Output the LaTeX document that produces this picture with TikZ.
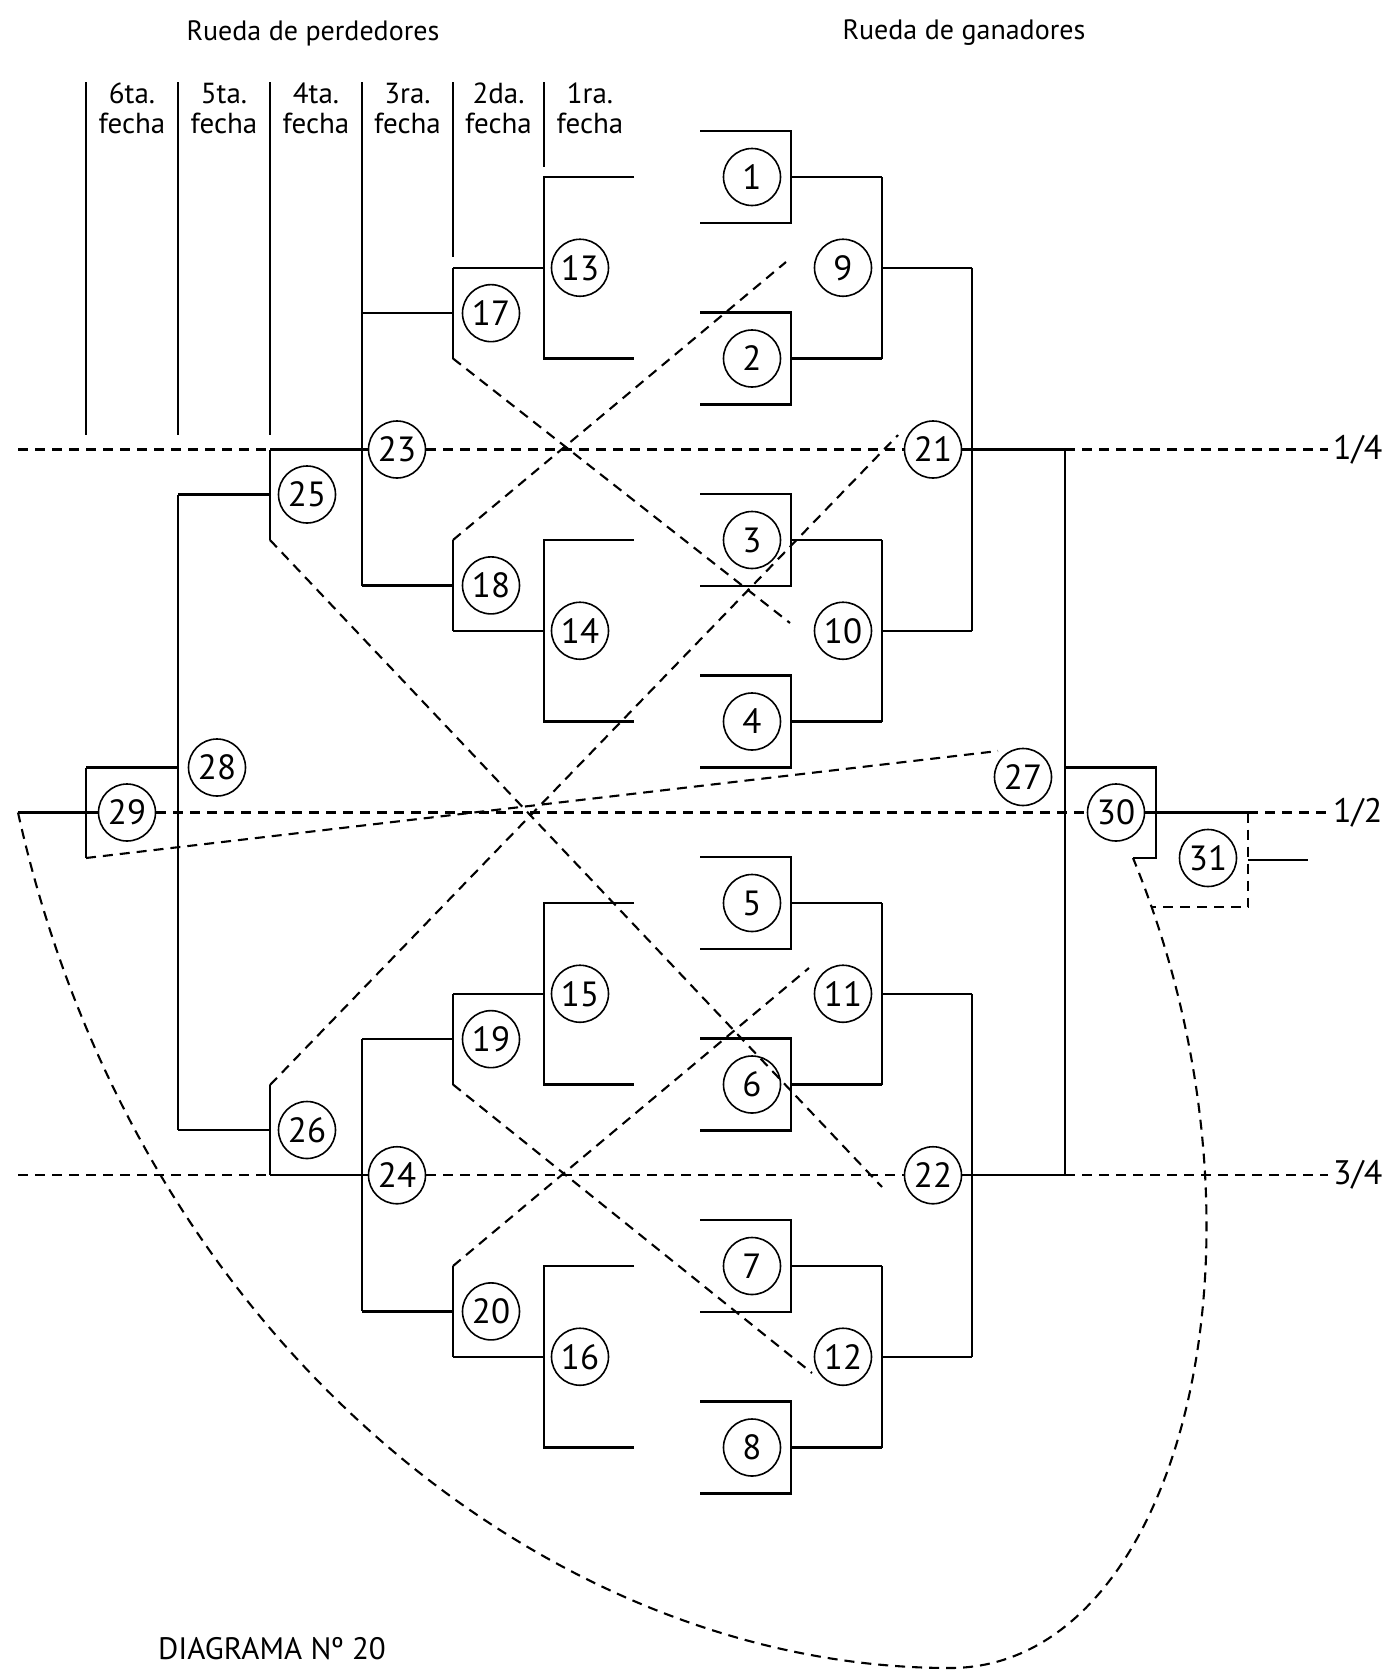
\documentclass[tikz,border=0pt]{standalone}
\usepackage{fontspec}
\setmainfont{PT Sans}
\begin{document}
\begin{tikzpicture}[x=1pt,y=-1pt,
  nd/.style={circle,draw,line width=1.6pt,minimum size=57pt,inner sep=0pt,font=\fontsize{35}{35}\selectfont},
  ln/.style={line width=2.2pt},
  dl/.style={line width=2.1pt,dash pattern=on 10pt off 7pt},
  hd/.style={font=\fontsize{29}{29}\selectfont,anchor=base,inner sep=0pt},
  ttl/.style={font=\fontsize{28}{28}\selectfont,inner sep=0pt},
  frac/.style={font=\fontsize{34}{34}\selectfont,anchor=west,inner sep=0pt},
]
\useasboundingbox (0,0) rectangle (1399,1673);

% titles
\node[ttl] (tper) at (313,33) {Rueda de perdedores};
\node[ttl] (tgan) at (964,33) {Rueda de ganadores};

% column heads
\foreach \x/\t [count=\k] in {132/6ta.,224/5ta.,316/4ta.,407.5/3ra.,498.5/2da.,590/1ra.}{
  \node[hd] (ha\k) at (\x,103) {\t};
  \node[hd] (hb\k) at (\x,133) {fecha};
}
\draw[ln] (86,82) -- (86,435);
\draw[ln] (178,82) -- (178,435);
\draw[ln] (270,82) -- (270,435);
\draw[ln] (362,82) -- (362,585.6);
\draw[ln] (453,82) -- (453,257);
\draw[ln] (544,82) -- (544,167);

% ---------- winners bracket ----------
\foreach \i in {1,...,8}{
  \pgfmathsetmacro\yy{177+181.5*(\i-1)}
  \node[nd] (n\i) at (752,\yy) {\i};
  \draw[ln] (700,\yy-46) -- (791,\yy-46) -- (791,\yy+46) -- (700,\yy+46);
  \draw[ln] (791,\yy) -- (882,\yy);
}
\foreach \j in {0,...,3}{
  \pgfmathsetmacro\ya{177+363*\j}
  \pgfmathsetmacro\ym{\ya+90.75}
  \pgfmathtruncatemacro\nn{9+\j}
  \node[nd] (n\nn) at (843,\ym) {\nn};
  \draw[ln] (882,\ya) -- (882,\ya+181.5);
  \draw[ln] (882,\ym) -- (972,\ym);
}
\node[nd] (n21) at (933,449.5) {21};
\node[nd] (n22) at (933,1175.25) {22};
\draw[ln] (972,267.75) -- (972,631.25);
\draw[ln] (972,993.75) -- (972,1356.75);
\draw[ln] (n21.east) -- (1065,449.5);
\draw[ln] (n22.east) -- (1065,1175.25);
\draw[ln] (1065,449.5) -- (1065,1175.25);

\node[nd] (n27) at (1023,777) {27};
\node[nd] (n30) at (1116,812.5) {30};
\node[nd] (n31) at (1208,858) {31};
\coordinate (c30) at (1133,858);
\draw[ln] (1065,767.5) -- (1156,767.5) -- (1156,858) -- (c30);
\draw[ln] (n30.east) -- (1248,812.5);
\draw[dl] (1248,812.5) -- (1248,907) -- (1152,907);
\draw[ln] (1248,860) -- (1308,860);

% ---------- losers bracket ----------
\foreach \j in {0,...,3}{
  \pgfmathsetmacro\ya{177+363*\j}
  \pgfmathsetmacro\ym{\ya+90.75}
  \pgfmathtruncatemacro\nn{13+\j}
  \node[nd] (n\nn) at (580,\ym) {\nn};
  \draw[ln] (634,\ya) -- (544,\ya) -- (544,\ya+181.5) -- (634,\ya+181.5);
  \draw[ln] (544,\ym) -- (453,\ym);
}
\foreach \nn/\ya in {17/267.75,18/540,19/993.75,20/1266}{
  \node[nd] (n\nn) at (491,\ya+45.4) {\nn};
  \draw[ln] (453,\ya) -- (453,\ya+90.75);
  \draw[ln] (453,\ya+45.4) -- (362,\ya+45.4);
}
\node[nd] (n23) at (397,449.5) {23};
\node[nd] (n24) at (397,1175.25) {24};
\draw[ln] (362,1039.1) -- (362,1311.4);
\draw[ln] (270,449.5) -- (n23.west);
\draw[ln] (270,1175.25) -- (n24.west);

\node[nd] (n25) at (307,494.5) {25};
\node[nd] (n26) at (307,1130) {26};
\draw[ln] (270,449.5) -- (270,540);
\draw[ln] (270,1085) -- (270,1175.25);
\draw[ln] (270,494.5) -- (178,494.5);
\draw[ln] (270,1130) -- (178,1130);

\node[nd] (n28) at (217,767.5) {28};
\draw[ln] (178,494.5) -- (178,1130);
\draw[ln] (178,767.5) -- (86,767.5);

\node[nd] (n29) at (127,812.5) {29};
\coordinate (c29) at (18,812.5);
\draw[ln] (86,767.5) -- (86,858);
\draw[ln] (n29.west) -- (c29);

% ---------- dashed level lines ----------
\draw[dl] (18,449.5) -- (270,449.5);
\draw[dl] (n23.east) -- (n21.west);
\draw[dl] (18,1175.25) -- (270,1175.25);
\draw[dl] (n24.east) -- (n22.west);
\draw[dl] (n29.east) -- (n30.west);
\draw[dl] (1065,449.5) -- (1328,449.5);
\draw[dl] (1248,812.5) -- (1328,812.5);
\draw[dl] (1065,1175.25) -- (1328,1175.25);
\node[frac] (q1) at (1333,449.5) {1/4};
\node[frac] (q2) at (1333,812.5) {1/2};
\node[frac] (q3) at (1333,1175.25) {3/4};

% ---------- dashed loser routes ----------
\coordinate (e10) at (790,623);
\coordinate (e9) at (786,262);
\coordinate (e12) at (812,1373);
\coordinate (e11) at (809,968);
\coordinate (e22) at (882,1187);
\coordinate (e21) at (898,435);
\coordinate (e27) at (998,751);
\draw[dl] (453,358.5) -- (e10);
\draw[dl] (453,540) -- (e9);
\draw[dl] (453,1084.5) -- (e12);
\draw[dl] (453,1266) -- (e11);
\draw[dl] (270,540) -- (e22);
\draw[dl] (270,1085) -- (e21);
\draw[dl] (86,858) -- (e27);

% big return curve
\draw[dl] (c29) .. controls (135,1340) and (550,1668) .. (950,1668)
  .. controls (1180,1668) and (1290,1240) .. (c30);

\node[font=\fontsize{31}{31}\selectfont,anchor=west,inner sep=0pt] (dg) at (158,1649) {DIAGRAMA Nº 20};
\end{tikzpicture}
\end{document}
